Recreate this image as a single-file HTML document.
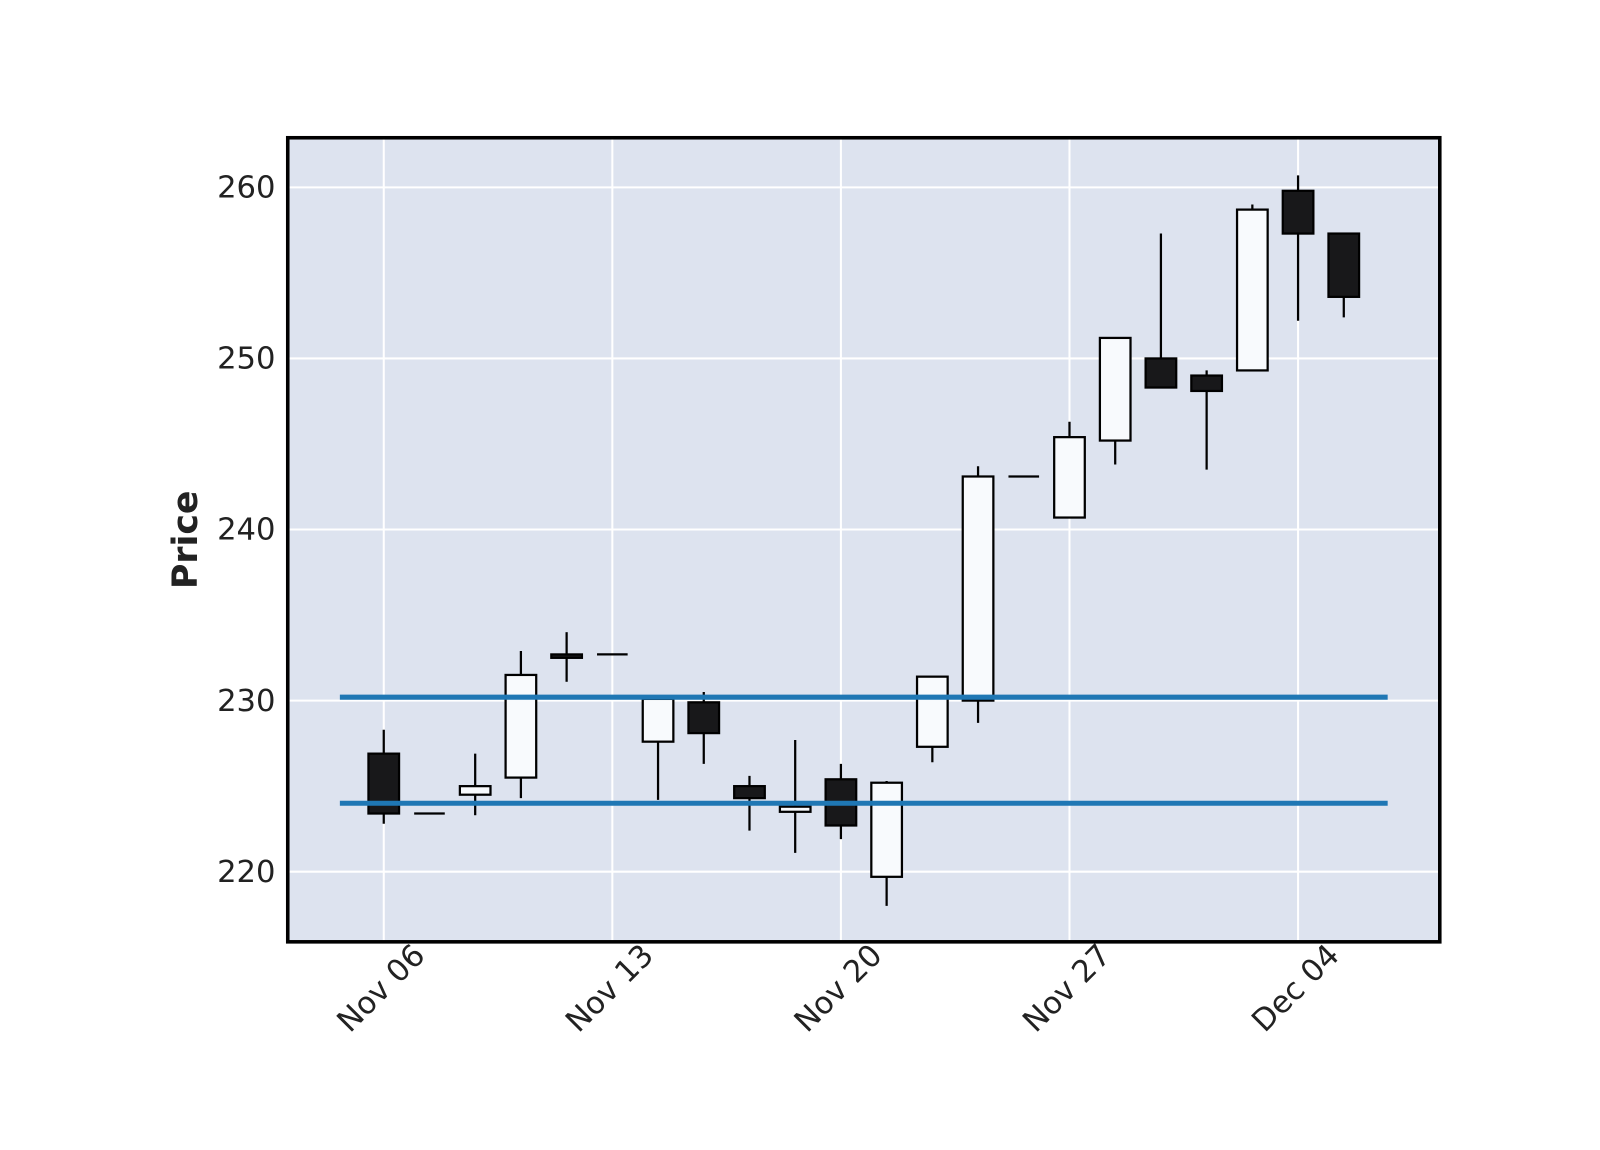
<!DOCTYPE html>
<html><head><meta charset="utf-8"><style>
body{margin:0;background:#fff;}
svg{display:block;font-family:"DejaVu Sans","Liberation Sans",sans-serif;}
</style></head><body>
<svg width="1600" height="1150" xmlns="http://www.w3.org/2000/svg"><g id="chart" transform="scale(1.0204)"></g></svg>
<script>
const opens  = [226.9,223.4,224.5,225.5,232.7,232.7,227.6,229.9,225.0,223.5,225.4,219.7,227.3,230.0,243.1,240.7,245.2,250.0,249.0,249.3,259.8,257.3];
const closes = [223.4,223.4,225.0,231.5,232.5,232.7,230.1,228.1,224.3,223.8,222.7,225.2,231.4,243.1,243.1,245.4,251.2,248.3,248.1,258.7,257.3,253.6];
const highs  = [228.3,223.4,226.9,232.9,234.0,232.7,230.2,230.5,225.6,227.7,226.3,225.3,231.4,243.7,243.1,246.3,251.2,257.3,249.3,259.0,260.7,257.3];
const lows   = [222.8,223.4,223.3,224.3,231.1,232.7,224.2,226.3,222.4,221.1,221.9,218.0,226.4,228.7,243.1,240.7,243.8,248.3,243.5,249.3,252.2,252.4];
const hlineValues = [230.2, 224.0];
const yTicks = [220,230,240,250,260];
const xTickIdx = [0,5,10,15,20];
const xTickLabels = ["Nov 06","Nov 13","Nov 20","Nov 27","Dec 04"];

const NS="http://www.w3.org/2000/svg";
const svg=document.getElementById('chart');
const L=282,R=1411,T=135,B=923;
const yMin=215.9,yMax=262.9,xMin=-2.1,xMax=23.1;
const sx=i=>L+(i-xMin)/(xMax-xMin)*(R-L);
const sy=v=>T+(yMax-v)/(yMax-yMin)*(B-T);
function mk(tag,attrs,parent){const e=document.createElementNS(NS,tag);for(const k in attrs)e.setAttribute(k,attrs[k]);(parent||svg).appendChild(e);return e;}

const bg=mk('rect',{x:L,y:T,width:R-L,height:B-T,fill:'#dde3ef'});



yTicks.forEach(v=>{
  const g=mk('line',{x1:L,x2:R,y1:sy(v),y2:sy(v),stroke:'#fff','stroke-width':2});
  
  
  const t=mk('text',{x:270,y:sy(v)+10,'text-anchor':'end','font-size':30,fill:'#222'});
  t.textContent=v;
  
  
});
xTickIdx.forEach((i,k)=>{
  const g=mk('line',{x1:sx(i),x2:sx(i),y1:T,y2:B,stroke:'#fff','stroke-width':2});
  
  
  const x=sx(i)+42,y=938;
  const t=mk('text',{x:x,y:y,'text-anchor':'end','font-size':30,fill:'#222',transform:`rotate(-45 ${x} ${y})`});
  t.textContent=xTickLabels[k];
  
  
});

const bw=30;
opens.forEach((o,i)=>{
  const c=closes[i],x=sx(i);
  const g=mk('g',{});
  
  
  mk('line',{x1:x,x2:x,y1:sy(highs[i]),y2:sy(lows[i]),stroke:'#000','stroke-width':2.2},g);
  const top=sy(Math.max(o,c)),bot=sy(Math.min(o,c));
  const up=c>=o;
  if(Math.abs(bot-top)<1){
    mk('line',{x1:x-bw/2,x2:x+bw/2,y1:top,y2:top,stroke:'#000','stroke-width':2.2},g);
  } else {
    mk('rect',{x:x-bw/2,y:top,width:bw,height:bot-top,fill:up?'#f8fafd':'#18181a',stroke:'#000','stroke-width':2.2},g);
  }
});

hlineValues.forEach(v=>{
  const l=mk('line',{x1:sx(-0.96),x2:sx(21.96),y1:sy(v),y2:sy(v),stroke:'#1f77b4','stroke-width':5});
  
  
});

const fr=mk('rect',{x:L,y:T,width:R-L,height:B-T,fill:'none',stroke:'#000','stroke-width':3.5});



const yt=mk('text',{x:193,y:(T+B)/2,'text-anchor':'middle','font-size':34,'font-weight':'bold',fill:'#222',transform:`rotate(-90 193 ${(T+B)/2})`});
yt.textContent='Price';


</script>
</body></html>
